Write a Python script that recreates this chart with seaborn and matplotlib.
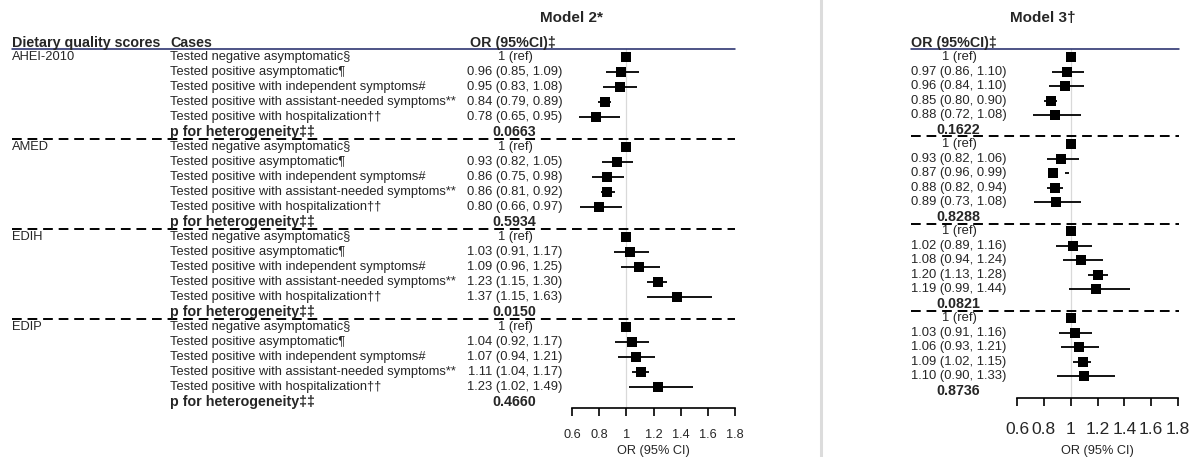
import pandas as pd
import matplotlib.pyplot as plt
import seaborn as sns
from matplotlib.transforms import blended_transform_factory
from matplotlib.lines import Line2D

# Data
scores = ['AHEI-2010', 'AMED', 'EDIH', 'EDIP']
cases = ['Tested negative asymptomatic§',
         'Tested positive asymptomatic¶',
         'Tested positive with independent symptoms#',
         'Tested positive with assistant-needed symptoms**',
         'Tested positive with hospitalization††']

m2_or = [[1, 0.96, 0.95, 0.84, 0.78], [1, 0.93, 0.86, 0.86, 0.80],
         [1, 1.03, 1.09, 1.23, 1.37], [1, 1.04, 1.07, 1.11, 1.23]]
m2_lo = [[None, 0.85, 0.83, 0.79, 0.65], [None, 0.82, 0.75, 0.81, 0.66],
         [None, 0.91, 0.96, 1.15, 1.15], [None, 0.92, 0.94, 1.04, 1.02]]
m2_hi = [[None, 1.09, 1.08, 0.89, 0.95], [None, 1.05, 0.98, 0.92, 0.97],
         [None, 1.17, 1.25, 1.30, 1.63], [None, 1.17, 1.21, 1.17, 1.49]]
m2_p = ['0.0663', '0.5934', '0.0150', '0.4660']

m3_or = [[1, 0.97, 0.96, 0.85, 0.88], [1, 0.93, 0.87, 0.88, 0.89],
         [1, 1.02, 1.08, 1.20, 1.19], [1, 1.03, 1.06, 1.09, 1.10]]
m3_lo = [[None, 0.86, 0.84, 0.80, 0.72], [None, 0.82, 0.96, 0.82, 0.73],
         [None, 0.89, 0.94, 1.13, 0.99], [None, 0.91, 0.93, 1.02, 0.90]]
m3_hi = [[None, 1.10, 1.10, 0.90, 1.08], [None, 1.06, 0.99, 0.94, 1.08],
         [None, 1.16, 1.24, 1.28, 1.44], [None, 1.16, 1.21, 1.15, 1.33]]
m3_p = ['0.1622', '0.8288', '0.0821', '0.8736']

ticks = [0.6, 0.8, 1, 1.2, 1.4, 1.6, 1.8]
tick_labels = ['0.6', '0.8', '1', '1.2', '1.4', '1.6', '1.8']


def make_df(ors, los, his):
    rows = []
    for g in range(len(scores)):
        for k in range(len(cases)):
            rows.append({'row': g * 6 + k, 'OR': ors[g][k], 'lo': los[g][k], 'hi': his[g][k]})
    return pd.DataFrame(rows)


df2 = make_df(m2_or, m2_lo, m2_hi)
df3 = make_df(m3_or, m3_lo, m3_hi)

sns.set_theme(style='white')
plt.rcParams['font.family'] = ['Liberation Sans', 'DejaVu Sans']

W, H = 1201, 457
fig = plt.figure(figsize=(W / 100, H / 100), dpi=100)
NAVY = '#1c2566'
FS_CASE, FS_VAL, FS_BOLD = 9.3, 9.4, 10.3


def px_axes(x0, x1, y_top, y_bot):
    return fig.add_axes([x0 / W, 1 - y_bot / H, (x1 - x0) / W, (y_bot - y_top) / H])


def forest(ax, df, row0, step, y_top, y_bot, tick_fs, tick_pad, lab_pad, xline0, xline1, x0, x1):
    ax.set_xlim(0.6, 1.8)
    ax.set_ylim((y_bot - row0) / step, (y_top - row0) / step)
    ax.axvline(1, color='#d9d9d9', lw=0.9, zorder=0)
    ci = df.dropna()
    ax.hlines(ci['row'], ci['lo'], ci['hi'], color='black', lw=1.3, zorder=2)
    sns.scatterplot(data=df, x='OR', y='row', marker='s', s=44, color='black',
                    edgecolor='black', linewidth=0, ax=ax, zorder=3, legend=False)
    for sp in ['top', 'right', 'left']:
        ax.spines[sp].set_visible(False)
    ax.spines['bottom'].set_linewidth(1.2)
    ax.spines['bottom'].set_color('black')
    ax.set_yticks([])
    ax.set_ylabel('')
    ax.set_xticks(ticks)
    ax.set_xticklabels(tick_labels)
    ax.tick_params(axis='x', direction='out', length=6, width=1.2, color='black',
                   labelsize=tick_fs, pad=tick_pad, bottom=True)
    ax.set_xlabel('OR (95% CI)', fontsize=9.2, labelpad=lab_pad)
    ax.patch.set_alpha(0)
    # header rule and group separators, extended left over the text columns
    fx0 = (xline0 - x0) / (x1 - x0)
    fx1 = (xline1 - x0) / (x1 - x0)
    ax.axhline(ax.get_ylim()[1], xmin=fx0, xmax=fx1, color=NAVY, lw=1.1, clip_on=False)
    for g in range(len(scores) - 1):
        ax.axhline(g * 6 + 5.47, xmin=fx0, xmax=fx1, color='black', lw=1.4,
                   ls=(0, (5, 3)), clip_on=False, zorder=1)


# Model 2 panel
ax2 = px_axes(572, 735, 49, 408)
forest(ax2, df2, 57, 15.0, 49, 408, 9.2, 9, 3, 12, 735, 572, 735)
tr2 = blended_transform_factory(fig.transFigure, ax2.transData)
fig.text(12 / W, 1 - 50 / H, 'Dietary quality scores', fontsize=FS_BOLD, fontweight='bold', va='bottom')
fig.text(170 / W, 1 - 50 / H, 'Cases', fontsize=FS_BOLD, fontweight='bold', va='bottom')
fig.text(513 / W, 1 - 50 / H, 'OR (95%CI)‡', fontsize=FS_BOLD, fontweight='bold', va='bottom', ha='center')
fig.text(572 / W, 1 - 18 / H, 'Model 2*', fontsize=11, fontweight='bold', va='center', ha='center')
for g, name in enumerate(scores):
    ax2.text(12 / W, g * 6, name, transform=tr2, fontsize=FS_CASE, va='center')
    for k, c in enumerate(cases):
        r = g * 6 + k
        ax2.text(170 / W, r, c, transform=tr2, fontsize=FS_CASE, va='center')
        lab = '1 (ref)' if k == 0 else f'{m2_or[g][k]:.2f} ({m2_lo[g][k]:.2f}, {m2_hi[g][k]:.2f})'
        ax2.text(515 / W, r, lab, transform=tr2, fontsize=FS_VAL, va='center', ha='center')
    ax2.text(170 / W, g * 6 + 5, 'p for heterogeneity‡‡', transform=tr2, fontsize=FS_BOLD,
             fontweight='bold', va='center')
    ax2.text(514 / W, g * 6 + 5, m2_p[g], transform=tr2, fontsize=FS_BOLD,
             fontweight='bold', va='center', ha='center')

# Model 3 panel
ax3 = px_axes(1017, 1178, 49, 398)
forest(ax3, df3, 57, 14.52, 49, 398, 12.5, 11, 6, 911, 1179, 1017, 1178)
tr3 = blended_transform_factory(fig.transFigure, ax3.transData)
fig.text(911 / W, 1 - 50 / H, 'OR (95%CI)‡', fontsize=FS_BOLD, fontweight='bold', va='bottom')
fig.text(1043 / W, 1 - 18 / H, 'Model 3†', fontsize=11, fontweight='bold', va='center', ha='center')
for g in range(len(scores)):
    for k in range(len(cases)):
        r = g * 6 + k
        lab = '1 (ref)' if k == 0 else f'{m3_or[g][k]:.2f} ({m3_lo[g][k]:.2f}, {m3_hi[g][k]:.2f})'
        ax3.text(959 / W, r, lab, transform=tr3, fontsize=FS_VAL, va='center', ha='center')
    ax3.text(958 / W, g * 6 + 5, m3_p[g], transform=tr3, fontsize=FS_BOLD,
             fontweight='bold', va='center', ha='center')

# light grey divider between the two panels
fig.add_artist(Line2D([821 / W, 821 / W], [0, 1], transform=fig.transFigure,
                      color='#dcdcdc', lw=2.2))

fig.savefig('out.png', dpi=100)
